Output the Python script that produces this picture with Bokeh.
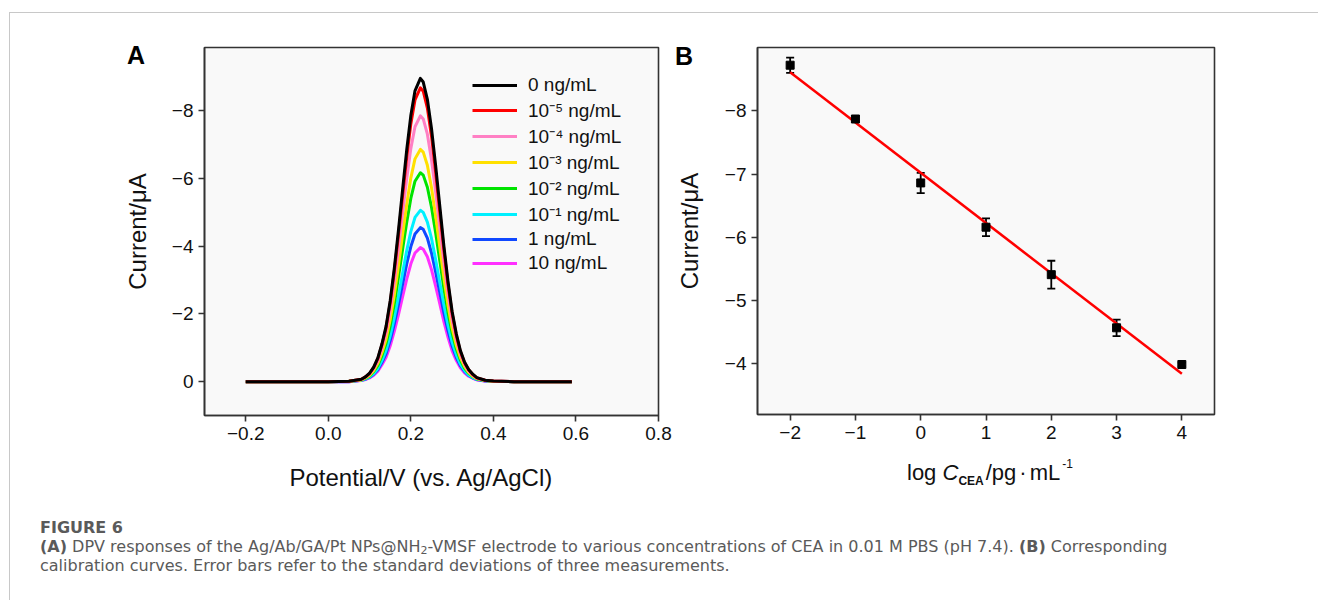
from bokeh.plotting import figure
from bokeh.models import (Range1d, FixedTicker, CustomJSTickFormatter, Legend, LegendItem,
                          ColumnDataSource, Whisker, TeeHead, Div)
from bokeh.layouts import row, column
from bokeh.embed import file_html
from bokeh.resources import INLINE
import numpy as np

# ---------------- Panel A data (DPV curves) ----------------
potential = [-0.20, -0.10, 0.00, 0.05, 0.08, 0.09, 0.10, 0.11, 0.12, 0.13, 0.14, 0.15, 0.16,
             0.17, 0.18, 0.19, 0.20, 0.21, 0.223, 0.23, 0.24, 0.25, 0.26, 0.27, 0.28, 0.29,
             0.30, 0.31, 0.32, 0.33, 0.34, 0.35, 0.36, 0.38, 0.40, 0.45, 0.59]
i_0ng = [0, 0, 0, -0.01, -0.07, -0.14, -0.25, -0.43, -0.70, -1.12, -1.64, -2.40, -3.36, -4.48,
         -5.68, -6.85, -7.87, -8.59, -8.96, -8.85, -8.34, -7.48, -6.39, -5.20, -4.01, -2.96,
         -2.07, -1.42, -0.92, -0.58, -0.36, -0.22, -0.12, -0.04, -0.02, 0, 0]
i_1e_5 = [0, 0, 0, -0.01, -0.07, -0.14, -0.24, -0.42, -0.68, -1.09, -1.59, -2.33, -3.26, -4.34,
          -5.50, -6.63, -7.62, -8.32, -8.68, -8.58, -8.08, -7.25, -6.19, -5.03, -3.89, -2.86,
          -2.01, -1.37, -0.89, -0.56, -0.35, -0.21, -0.11, -0.04, -0.02, 0, 0]
i_1e_4 = [0, 0, 0, -0.01, -0.06, -0.13, -0.22, -0.38, -0.61, -0.98, -1.44, -2.10, -2.94, -3.93,
          -4.98, -6.00, -6.89, -7.53, -7.85, -7.76, -7.31, -6.55, -5.60, -4.55, -3.52, -2.59,
          -1.81, -1.24, -0.81, -0.51, -0.31, -0.19, -0.10, -0.04, -0.02, 0, 0]
i_1e_3 = [0, 0, 0, -0.01, -0.05, -0.11, -0.19, -0.33, -0.54, -0.86, -1.26, -1.84, -2.57, -3.43,
          -4.35, -5.24, -6.02, -6.58, -6.86, -6.78, -6.39, -5.73, -4.89, -3.98, -3.07, -2.26,
          -1.58, -1.08, -0.71, -0.45, -0.27, -0.16, -0.09, -0.03, -0.01, 0, 0]
i_1e_2 = [0, 0, 0, -0.01, -0.05, -0.10, -0.17, -0.30, -0.48, -0.77, -1.13, -1.65, -2.31, -3.09,
          -3.91, -4.71, -5.42, -5.92, -6.17, -6.10, -5.74, -5.15, -4.40, -3.58, -2.76, -2.04,
          -1.43, -0.97, -0.64, -0.40, -0.25, -0.15, -0.08, -0.03, -0.01, 0, 0]
i_1e_1 = [0, 0, 0, -0.01, -0.04, -0.08, -0.14, -0.24, -0.39, -0.63, -0.93, -1.36, -1.90, -2.53,
          -3.21, -3.87, -4.44, -4.85, -5.06, -5.00, -4.71, -4.23, -3.61, -2.93, -2.27, -1.67,
          -1.17, -0.80, -0.52, -0.33, -0.20, -0.12, -0.07, -0.03, -0.01, 0, 0]
i_1ng = [0, 0, 0, 0, -0.04, -0.07, -0.13, -0.22, -0.35, -0.57, -0.83, -1.22, -1.71, -2.28,
         -2.88, -3.48, -3.99, -4.36, -4.55, -4.50, -4.24, -3.80, -3.24, -2.64, -2.04, -1.50,
         -1.05, -0.72, -0.47, -0.30, -0.18, -0.11, -0.06, -0.02, -0.01, 0, 0]
i_10ng = [0, 0, 0, 0, -0.03, -0.06, -0.11, -0.19, -0.31, -0.50, -0.72, -1.06, -1.49, -1.98,
          -2.51, -3.03, -3.48, -3.80, -3.96, -3.91, -3.69, -3.31, -2.82, -2.30, -1.77, -1.31,
          -0.91, -0.63, -0.41, -0.26, -0.16, -0.10, -0.05, -0.02, -0.01, 0, 0]

series_labels = ["0 ng/mL", "10\u207b\u2075 ng/mL", "10\u207b\u2074 ng/mL", "10\u207b\u00b3 ng/mL",
                 "10\u207b\u00b2 ng/mL", "10\u207b\u00b9 ng/mL", "1 ng/mL", "10 ng/mL"]
series_colors = ["#000000", "#ff0000", "#ff80c4", "#ffe000", "#00e400", "#00f0ff", "#1048ff", "#ff30ff"]
series_values = [i_0ng, i_1e_5, i_1e_4, i_1e_3, i_1e_2, i_1e_1, i_1ng, i_10ng]

xticks_A = [-0.2, 0.0, 0.2, 0.4, 0.6, 0.8]
yticks_A = [-8, -6, -4, -2, 0]

# ---------------- Panel B data (calibration) ----------------
log_c = [-2, -1, 0, 1, 2, 3, 4]
current_b = [-8.72, -7.87, -6.86, -6.16, -5.41, -4.57, -3.99]
current_err = [0.12, 0.05, 0.16, 0.14, 0.22, 0.13, 0.03]
xticks_B = [-2, -1, 0, 1, 2, 3, 4]
yticks_B = [-8, -7, -6, -5, -4]

FONT = "Liberation Sans"
FRAME = "#333333"
BG = "#f9f9f9"
TXT = "#111111"

fmt1 = CustomJSTickFormatter(code="return (tick < -1e-9 ? '\u2212' : '') + Math.abs(tick).toFixed(1);")
fmt0 = CustomJSTickFormatter(code="return (tick < -1e-9 ? '\u2212' : '') + Math.abs(tick).toFixed(0);")


def style(p):
    p.background_fill_color = BG
    p.border_fill_color = "white"
    p.outline_line_color = FRAME
    p.outline_line_width = 1.6
    p.xgrid.visible = False
    p.ygrid.visible = False
    for ax in (p.xaxis[0], p.yaxis[0]):
        ax.axis_line_color = FRAME
        ax.axis_line_width = 1.6
        ax.major_tick_line_color = FRAME
        ax.major_tick_line_width = 1.6
        ax.major_tick_out = 6
        ax.major_tick_in = 0
        ax.minor_tick_line_color = None
        ax.major_label_text_font = FONT
        ax.major_label_text_font_size = "19px"
        ax.major_label_text_color = TXT
        ax.major_label_standoff = 5
        ax.axis_label_text_font = FONT
        ax.axis_label_text_font_size = "24px"
        ax.axis_label_text_font_style = "normal"
        ax.axis_label_text_color = TXT


# ---------------- Figure A ----------------
pA = figure(title=None, frame_width=454, frame_height=368,
            min_border_left=194, min_border_right=14, min_border_top=34, min_border_bottom=85,
            x_range=Range1d(-0.3, 0.8), y_range=Range1d(1.0, -9.87),
            output_backend="svg", toolbar_location=None)
style(pA)
pA.xaxis.ticker = FixedTicker(ticks=xticks_A)
pA.yaxis.ticker = FixedTicker(ticks=yticks_A)
pA.xaxis.formatter = fmt1
pA.yaxis.formatter = fmt0
pA.yaxis.axis_label = "Current/\u03bcA"
pA.yaxis.axis_label_standoff = 18
pA.xaxis.axis_label = "Potential/V (vs. Ag/AgCl)" + "\u00a0" * 3
pA.xaxis.axis_label_standoff = 21

drawn = {}
for idx in reversed(range(len(series_values))):
    drawn[idx] = pA.line(potential, series_values[idx], line_color=series_colors[idx],
                         line_width=3, line_join="round")

legend = Legend(items=[LegendItem(label=series_labels[i], renderers=[drawn[i]])
                       for i in range(len(series_labels))],
                location=(268, 140))
legend.background_fill_alpha = 0
legend.border_line_alpha = 0
legend.padding = 0
legend.margin = 0
legend.spacing = 0
legend.glyph_width = 45
legend.glyph_height = 24
legend.label_height = 24
legend.label_standoff = 11
legend.label_text_font = FONT
legend.label_text_font_size = "19px"
legend.label_text_color = TXT
pA.add_layout(legend)

# ---------------- Figure B ----------------
pB = figure(title=None, frame_width=457, frame_height=367,
            min_border_left=82, min_border_right=100, min_border_top=34, min_border_bottom=40,
            x_range=Range1d(-2.5, 4.5), y_range=Range1d(-3.2, -9.0),
            output_backend="svg", toolbar_location=None)
style(pB)
pB.xaxis.ticker = FixedTicker(ticks=xticks_B)
pB.yaxis.ticker = FixedTicker(ticks=yticks_B)
pB.xaxis.formatter = fmt0
pB.yaxis.formatter = fmt0
pB.yaxis.axis_label = "Current/\u03bcA"
pB.yaxis.axis_label_standoff = 19

slope, intercept = np.polyfit(log_c, current_b, 1)
fit_x = [log_c[0], log_c[-1]]
fit_y = [slope * v + intercept for v in fit_x]
pB.line(fit_x, fit_y, line_color="#ff0000", line_width=2.5)

src = ColumnDataSource(dict(x=log_c, y=current_b,
                            upper=[c + e for c, e in zip(current_b, current_err)],
                            lower=[c - e for c, e in zip(current_b, current_err)]))
pB.add_layout(Whisker(source=src, base="x", upper="upper", lower="lower",
                      line_color="black", line_width=1.8,
                      upper_head=TeeHead(size=8, line_color="black", line_width=1.8),
                      lower_head=TeeHead(size=8, line_color="black", line_width=1.8)))
pB.scatter("x", "y", source=src, marker="square", size=8, fill_color="black", line_color="black")

# x-axis title of panel B (mixed italic / subscript / superscript) as HTML text below the figure
bx_html = (
    '<div style="font-family:\'Liberation Sans\'; font-size:22px; line-height:22px; color:#111111;'
    ' padding:8px 0 0 235px; white-space:nowrap;">'
    'log <i>C</i><span style="font-size:12px; font-weight:bold; vertical-align:-5px; line-height:0;'
    ' margin-right:2px;">CEA</span>/pg<span style="margin:0 3px;">\u00b7</span>mL'
    '<span style="font-size:12px; vertical-align:12px; line-height:0; margin-left:2px;">-1</span>'
    '</div>'
)
bx_div = Div(text=bx_html, width=639, height=46, margin=0)

# panel letters
letter_css = ("font-family:'Liberation Sans'; font-weight:bold; font-size:25px; line-height:25px;"
              " color:#000000; margin:0;")
divA = Div(text='<div style="%s">A</div>' % letter_css, width=24, height=26, margin=0,
           styles={"position": "absolute", "left": "117px", "top": "30px", "z-index": "5"})
divB = Div(text='<div style="%s">B</div>' % letter_css, width=24, height=26, margin=0,
           styles={"position": "absolute", "left": "665px", "top": "31px", "z-index": "5"})

# ---------------- Caption ----------------
cap_html = (
    '<div style="font-family:\'DejaVu Sans\'; font-size:16px; color:#5a5a5a;'
    ' padding:18px 0 0 30px; white-space:nowrap;">'
    '<div style="font-weight:bold; line-height:19px;">FIGURE 6</div>'
    '<div style="line-height:19px;"><b>(A)</b> DPV responses of the Ag/Ab/GA/Pt NPs@NH'
    '<span style="font-size:11px; vertical-align:-2px; line-height:0;">2</span>-VMSF '
    'electrode to various concentrations of CEA in 0.01 M PBS (pH 7.4). <b>(B)</b> Corresponding<br>'
    'calibration curves. Error bars refer to the standard deviations of three measurements.</div>'
    '</div>'
)
caption = Div(text=cap_html, width=1308, height=100, margin=0)

layout = column(row(pA, column(pB, bx_div)), caption, divA, divB,
                styles={"margin-left": "9px", "margin-top": "12px", "position": "relative",
                        "border-left": "1px solid #c8c8c8", "border-top": "1px solid #c8c8c8"})

open("out.html", "w").write(file_html(layout, INLINE))
